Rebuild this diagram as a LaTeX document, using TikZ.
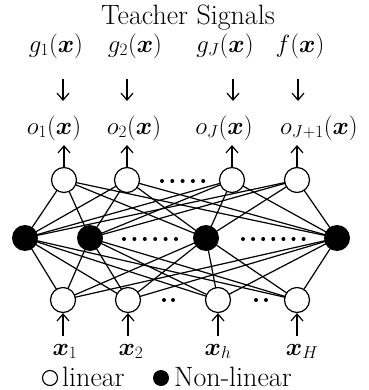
\documentclass[tikz,border=0pt]{standalone}
\usepackage{bm}
\usetikzlibrary{arrows.meta}
\begin{document}
\begin{tikzpicture}[x=1pt,y=-1pt,
  lin/.style={circle,draw,line width=1.2pt,minimum size=25pt,inner sep=0pt,fill=white},
  nonlin/.style={circle,fill=black,minimum size=26pt,inner sep=0pt},
  lbl/.style={inner sep=0pt,font=\fontsize{25.5}{30}\selectfont},
  txt/.style={inner sep=0pt,font=\fontsize{28}{32}\selectfont},
  conn/.style={line width=1.2pt},
  arr/.style={line width=1.2pt,-{Straight Barb[length=7pt,width=12pt,line width=1.2pt]}},
  dot/.style={circle,fill=black,minimum size=4pt,inner sep=0pt}]
\useasboundingbox (0,0) rectangle (368,390);
% title
\node[txt] (title) at (188,18) {Teacher Signals};
% teacher labels
\node[lbl] (g1) at (56,46) {$g_1(\bm{x})$};
\node[lbl] (g2) at (135,46) {$g_2(\bm{x})$};
\node[lbl] (gJ) at (225,46) {$g_J(\bm{x})$};
\node[lbl] (f) at (300,46) {$f(\bm{x})$};
% down arrows
\foreach \n/\x in {1/63,2/127,3/233,4/298}{
  \coordinate (ds\n) at (\x,79);
  \coordinate (de\n) at (\x,101);
  \draw[arr] (ds\n) -- (de\n);
}
% output labels
\node[lbl] (o1) at (54,128) {$o_1(\bm{x})$};
\node[lbl] (o2) at (134,128) {$o_2(\bm{x})$};
\node[lbl] (oJ) at (224,128) {$o_J(\bm{x})$};
\node[lbl] (oJ1) at (319,128) {$o_{J+1}(\bm{x})$};
% node centres
\foreach \n/\x in {O1/64,O2/127,O3/232,O4/297}{ \coordinate (\n) at (\x,180); }
\foreach \n/\x in {H1/25,H2/90,H3/206,H4/337}{ \coordinate (\n) at (\x,238); }
\foreach \n/\x in {I1/63,I2/128,I3/218,I4/297}{ \coordinate (\n) at (\x,300); }
% connections (drawn first, nodes cover ends)
\foreach \o in {O1,O2,O3,O4}{
  \foreach \h in {H1,H2,H3,H4}{ \draw[conn] (\o) -- (\h); }
}
\foreach \i in {I1,I2,I3,I4}{
  \foreach \h in {H1,H2,H3,H4}{ \draw[conn] (\i) -- (\h); }
}
% nodes on top
\foreach \n in {O1,O2,O3,O4,I1,I2,I3,I4}{ \node[lin] (n\n) at (\n) {}; }
\foreach \n in {H1,H2,H3,H4}{ \node[nonlin] (n\n) at (\n) {}; }
% up arrows from output nodes
\foreach \k/\x in {1/64,2/127,3/232,4/297}{
  \coordinate (t\k) at (\x,145);
}
\draw[arr] (nO1.north) -- (t1);
\draw[arr] (nO2.north) -- (t2);
\draw[arr] (nO3.north) -- (t3);
\draw[arr] (nO4.north) -- (t4);
% input arrows
\foreach \k/\x in {1/63,2/128,3/218,4/297}{
  \coordinate (b\k) at (\x,336);
}
\draw[arr] (b1) -- (nI1.south);
\draw[arr] (b2) -- (nI2.south);
\draw[arr] (b3) -- (nI3.south);
\draw[arr] (b4) -- (nI4.south);
% input labels
\node[lbl,anchor=base] (x1) at (65,355) {$\bm{x}_1$};
\node[lbl,anchor=base] (x2) at (131,355) {$\bm{x}_2$};
\node[lbl,anchor=base] (xh) at (218,355) {$\bm{x}_h$};
\node[lbl,anchor=base] (xH) at (302,355) {$\bm{x}_H$};
% dots
\foreach \k in {0,...,4}{ \node[dot] at (162+10.3*\k,181) {}; }
\foreach \k in {0,...,5}{ \node[dot] at (124+10.4*\k,239) {}; }
\foreach \k in {0,...,6}{ \node[dot] at (243+10.1*\k,239) {}; }
\foreach \k in {0,1}{ \node[dot] at (164+9*\k,300) {}; }
\foreach \k in {0,1}{ \node[dot] at (256+10*\k,300) {}; }
% legend
\node[circle,draw,line width=1.1pt,minimum size=15pt,inner sep=0pt] (lc) at (50,378) {};
\node[txt,anchor=base west] (ll) at (62,386) {linear};
\node[circle,fill=black,minimum size=16pt,inner sep=0pt] (nc) at (161,378) {};
\node[txt,anchor=base west] (nl) at (174,386) {Non-linear};
\end{tikzpicture}
\end{document}
